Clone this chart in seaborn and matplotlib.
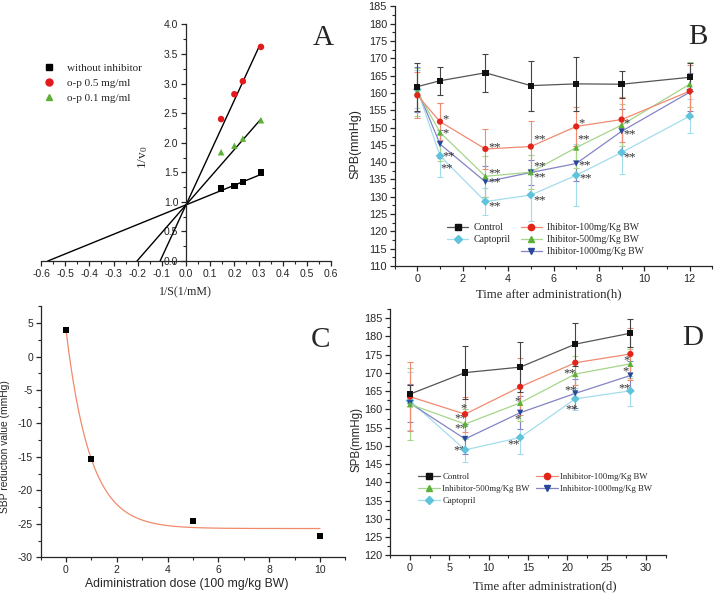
import numpy as np
import pandas as pd
import seaborn as sns
import matplotlib.pyplot as plt
from matplotlib.lines import Line2D
from matplotlib.ticker import MultipleLocator

# ---- panel A: double reciprocal plot ----
a_x = [0.145, 0.2, 0.235, 0.31]
a_none = [1.23, 1.27, 1.34, 1.50]
a_op05 = [2.40, 2.82, 3.04, 3.62]
a_op01 = [1.84, 1.95, 2.07, 2.38]
a_names = ["without inhibitor", "o-p 0.5 mg/ml", "o-p 0.1 mg/ml"]
a_slope = [1.66, 8.85, 4.68]
a_icept = [0.95, 0.95, 0.95]
a_xend = [0.31, 0.305, 0.31]

# ---- panel B: SBP over hours ----
b_time = [0, 1, 3, 5, 7, 9, 12]
b_control = [161.8, 163.5, 165.8, 162.1, 162.6, 162.5, 164.5]
b_i100 = [159.3, 151.7, 143.8, 144.5, 150.3, 152.3, 160.5]
b_i500 = [160.3, 148.6, 135.9, 137.1, 144.2, 150.7, 162.5]
b_i1000 = [161.0, 145.2, 134.3, 137.0, 139.6, 148.9, 160.2]
b_capto = [161.0, 141.8, 128.6, 130.5, 136.2, 142.8, 153.3]
b_control_err = [6.9, 4.1, 5.5, 7.2, 7.7, 3.9, 4.1]
b_i100_err = [6.6, 5.3, 5.8, 7.3, 5.7, 6.4, 7.5]
b_i500_err = [7.0, 8.4, 6.0, 5.0, 6.0, 6.0, 6.5]
b_i1000_err = [6.5, 4.0, 4.5, 3.5, 5.0, 6.5, 5.5]
b_capto_err = [5.5, 6.0, 4.0, 7.5, 9.0, 6.2, 5.0]

# ---- panel C: dose response ----
c_dose = [0, 1, 5, 10]
c_reduction = [4.0, -15.3, -24.5, -26.8]
c_fit_y0, c_fit_a, c_fit_t = -25.7, 29.7, 0.95

# ---- panel D: SBP over days ----
d_time = [0, 7, 14, 21, 28]
d_control = [164.2, 170.1, 171.6, 177.9, 180.9]
d_i100 = [163.5, 158.7, 166.2, 172.8, 175.2]
d_i500 = [161.4, 156.0, 161.8, 169.7, 172.5]
d_i1000 = [161.7, 151.9, 159.1, 164.4, 169.3]
d_capto = [162.4, 148.9, 152.3, 162.9, 165.1]
d_control_err = [2.5, 7.3, 6.8, 5.9, 3.8]
d_i100_err = [9.5, 4.8, 7.8, 6.0, 7.0]
d_i500_err = [9.9, 4.0, 5.0, 5.0, 4.0]
d_i1000_err = [5.2, 4.0, 4.5, 4.0, 4.0]
d_capto_err = [8.0, 3.4, 4.6, 3.0, 4.2]

# significance marks (text, x, y)
b_stars = [("*", 1.12, 152.3), ("*", 1.12, 148.4), ("**", 1.12, 141.8), ("**", 1.0, 138.1),
           ("**", 3.15, 144.4), ("**", 3.15, 136.7), ("**", 3.15, 134.1), ("**", 3.15, 127.3),
           ("**", 5.1, 146.5), ("**", 5.1, 138.8), ("**", 5.1, 135.5), ("**", 5.1, 128.9),
           ("*", 7.1, 151.3), ("**", 7.05, 146.5), ("**", 7.1, 139.1), ("**", 7.15, 135.4),
           ("*", 9.1, 151.1), ("**", 9.08, 147.9), ("**", 9.1, 141.5)]
d_stars = [("*", 6.35, 160.3), ("**", 5.6, 157.6), ("**", 5.7, 154.8), ("**", 5.5, 148.7),
           ("*", 13.25, 162.1), ("*", 13.3, 157.4), ("**", 12.4, 150.5),
           ("**", 19.5, 169.9), ("**", 19.6, 165.3), ("**", 19.7, 159.9),
           ("*", 27.1, 173.6), ("*", 27.0, 170.4), ("**", 26.5, 165.8)]

SERIF = "Liberation Serif"
SANS = "Liberation Sans"

sns.set_style("ticks")
plt.rcParams["font.family"] = [SANS, "DejaVu Sans"]
plt.rcParams["axes.unicode_minus"] = False
plt.rcParams["mathtext.fontset"] = "custom"
plt.rcParams["mathtext.rm"] = SERIF
plt.rcParams["mathtext.it"] = SERIF + ":italic"
plt.rcParams["axes.linewidth"] = 0.9

mk_col = {"ctl": "#111111", "i100": "#e3241b", "i500": "#5cb037", "i1000": "#27479a", "cap": "#5fc3dc"}
ln_col = {"ctl": "#555555", "i100": "#f08a72", "i500": "#a5d68a", "i1000": "#8383c6", "cap": "#a3dcec"}
mk_shape = {"ctl": "s", "i100": "o", "i500": "^", "i1000": "v", "cap": "D"}

fig = plt.figure(figsize=(7.18, 5.96), dpi=100)
axA = fig.add_axes([0.0571, 0.562, 0.404, 0.397])
axB = fig.add_axes([0.5496, 0.5537, 0.4426, 0.4357])
axC = fig.add_axes([0.0565, 0.0649, 0.4245, 0.4211])
axD = fig.add_axes([0.5436, 0.0683, 0.3837, 0.413])


def style_ax(ax, xmaj, xmin, ymaj, ymin, size=7.8):
    sns.despine(ax=ax)
    ax.xaxis.set_major_locator(MultipleLocator(xmaj))
    ax.xaxis.set_minor_locator(MultipleLocator(xmin))
    ax.yaxis.set_major_locator(MultipleLocator(ymaj))
    ax.yaxis.set_minor_locator(MultipleLocator(ymin))
    ax.tick_params(which="major", direction="out", length=3.5, width=0.9, labelsize=size, pad=2)
    ax.tick_params(which="minor", direction="out", length=2, width=0.8)


# ---------- A ----------
a_df = pd.DataFrame({"x": a_x * 3, "y": a_none + a_op05 + a_op01,
                     "grp": [a_names[0]] * 4 + [a_names[1]] * 4 + [a_names[2]] * 4})
for s, b, xe in zip(a_slope, a_icept, a_xend):
    xs = np.array([-b / s, xe])
    axA.plot(xs, b + s * xs, color="black", lw=1.0, zorder=2)
sns.scatterplot(data=a_df, x="x", y="y", hue="grp", style="grp",
                palette=["black", "#e31a1c", "#5cb037"], markers=["s", "o", "^"],
                s=22, linewidth=0, ax=axA, legend=False, zorder=3)
axA.set_xlim(-0.6, 0.6)
axA.set_ylim(0, 4)
style_ax(axA, 0.1, 0.05, 0.5, 0.25, size=7.5)
axA.spines["left"].set_position(("data", 0))
axA.xaxis.set_major_formatter(plt.FuncFormatter(lambda v, p: f"{v:.1f}"))
axA.yaxis.set_major_formatter(plt.FuncFormatter(lambda v, p: f"{v:.1f}"))
axA.set_xlabel("1/S(1/mM)", family=SERIF, fontsize=8.6)
axA.set_ylabel("1/v$_0$", family=SERIF, fontsize=9.5)
axA.xaxis.set_label_coords(0.498, -0.105)
axA.yaxis.set_label_coords(0.376, 0.44)
a_handles = [Line2D([], [], ls="none", marker=m, color=c, markersize=5)
             for m, c in zip(["s", "o", "^"], ["black", "#e31a1c", "#5cb037"])]
axA.legend(a_handles, a_names, loc="upper left", bbox_to_anchor=(0.01, 0.835), frameon=False,
           prop={"family": SERIF, "size": 8}, handlelength=1.0, handletextpad=1.1,
           labelspacing=0.45, borderpad=0, borderaxespad=0)


# ---------- B / D helper ----------
def draw_bp(ax, t, series, errs, keys, stars):
    for k in keys:
        ax.errorbar(t, series[k], yerr=errs[k], fmt="none", ecolor=ln_col[k] if k != "ctl" else "#444444",
                    elinewidth=0.8, capsize=2.5, capthick=0.8, zorder=2)
    rows = []
    for k in keys:
        for xv, yv in zip(t, series[k]):
            rows.append({"t": xv, "v": yv, "k": k})
    df = pd.DataFrame(rows)
    sns.lineplot(data=df, x="t", y="v", hue="k", palette=ln_col, hue_order=keys,
                 lw=0.9, ax=ax, legend=False, zorder=3, errorbar=None)
    sns.scatterplot(data=df, x="t", y="v", hue="k", style="k", palette=mk_col, markers=mk_shape,
                    hue_order=keys, style_order=keys, s=20, linewidth=0, ax=ax, legend=False, zorder=4)
    for txt, xv, yv in stars:
        ax.text(xv, yv, txt, family=SERIF, fontsize=9, color="#333333", va="center", ha="left")


def handle(k):
    return Line2D([], [], color=ln_col[k], lw=0.9, marker=mk_shape[k], markersize=4.5,
                  markerfacecolor=mk_col[k], markeredgecolor=mk_col[k])


blank = Line2D([], [], color="none")

# ---------- B ----------
b_series = {"ctl": b_control, "i100": b_i100, "i500": b_i500, "i1000": b_i1000, "cap": b_capto}
b_errs = {"ctl": b_control_err, "i100": b_i100_err, "i500": b_i500_err, "i1000": b_i1000_err, "cap": b_capto_err}
draw_bp(axB, b_time, b_series, b_errs, ["cap", "i1000", "i500", "i100", "ctl"], b_stars)
axB.set_xlim(-1, 13)
axB.set_ylim(110, 185)
style_ax(axB, 2, 1, 5, 2.5)
axB.set_xlabel("Time after administration(h)", family=SERIF, fontsize=9.3)
axB.set_ylabel("SPB(mmHg)", fontsize=9)
axB.xaxis.set_label_coords(0.486, -0.085)
axB.yaxis.set_label_coords(-0.104, 0.47)
axB.legend([handle("ctl"), handle("cap"), blank, handle("i100"), handle("i500"), handle("i1000")],
           ["Control", "Captopril", "", "Ihibitor-100mg/Kg BW", "Ihibitor-500mg/Kg BW", "Ihibitor-1000mg/Kg BW"],
           ncol=2, loc="upper left", bbox_to_anchor=(0.165, 0.165), frameon=False,
           prop={"family": SERIF, "size": 7.0}, handlelength=2.2, handletextpad=0.55,
           labelspacing=0.3, columnspacing=1.0, borderpad=0, borderaxespad=0)

# ---------- C ----------
c_curve_x = np.linspace(0, 10, 200)
c_curve = pd.DataFrame({"x": c_curve_x, "y": c_fit_y0 + c_fit_a * np.exp(-c_curve_x / c_fit_t)})
sns.lineplot(data=c_curve, x="x", y="y", color="#f08a6c", lw=0.9, ax=axC, zorder=2)
sns.scatterplot(x=c_dose, y=c_reduction, marker="s", color="black", s=22, linewidth=0, ax=axC, zorder=3)
axC.set_xlim(-1, 11)
axC.set_ylim(-30, 7.5)
style_ax(axC, 2, 1, 5, 2.5, size=7.5)
axC.set_xlabel("Adiministration dose (100 mg/kg BW)", fontsize=8.8)
axC.set_ylabel("SBP reduction value (mmHg)", fontsize=7.4)
axC.xaxis.set_label_coords(0.48, -0.083)
axC.yaxis.set_label_coords(-0.1, 0.44)

# ---------- D ----------
d_series = {"ctl": d_control, "i100": d_i100, "i500": d_i500, "i1000": d_i1000, "cap": d_capto}
d_errs = {"ctl": d_control_err, "i100": d_i100_err, "i500": d_i500_err, "i1000": d_i1000_err, "cap": d_capto_err}
draw_bp(axD, d_time, d_series, d_errs, ["cap", "i1000", "i500", "i100", "ctl"], d_stars)
axD.set_xlim(-2.5, 32.5)
axD.set_ylim(120, 187.5)
style_ax(axD, 5, 2.5, 5, 2.5)
axD.set_xlabel("Time after administration(d)", family=SERIF, fontsize=9.1)
axD.set_ylabel("SPB(mmHg)", fontsize=8.3)
axD.xaxis.set_label_coords(0.56, -0.1)
axD.yaxis.set_label_coords(-0.1, 0.47)
axD.legend([handle("ctl"), handle("i500"), handle("cap"), handle("i100"), handle("i1000"), blank],
           ["Control", "Inhibitor-500mg/Kg BW", "Captopril", "Inhibitor-100mg/Kg BW", "Inhibitor-1000mg/Kg BW", ""],
           ncol=2, loc="upper left", bbox_to_anchor=(0.1, 0.335), frameon=False,
           prop={"family": SERIF, "size": 6.3}, handlelength=2.5, handletextpad=0.3,
           labelspacing=0.45, columnspacing=0.7, borderpad=0, borderaxespad=0)

# panel letters
for lab, fx, fy in [("A", 0.45, 0.936), ("B", 0.972, 0.938), ("C", 0.447, 0.43), ("D", 0.965, 0.433)]:
    fig.text(fx, fy, lab, family=SERIF, fontsize=21, ha="center", va="center")

fig.savefig("out.png", dpi=100)
